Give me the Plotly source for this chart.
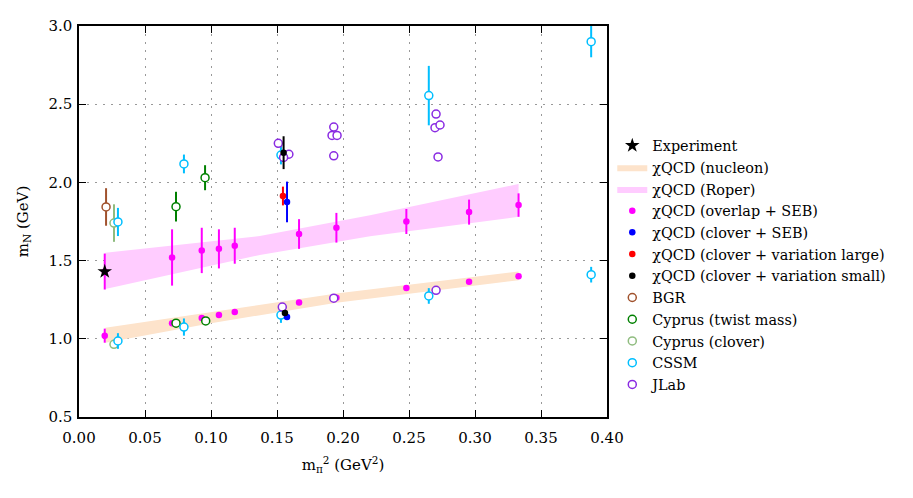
import plotly.graph_objects as go

# ---------------- data ----------------
exp_x = [0.0195]
exp_y = [1.43]

nuc_band_x = [0.02, 0.10, 0.195, 0.333]
nuc_band_lo = [0.975, 1.10, 1.23, 1.375]
nuc_band_hi = [1.07, 1.17, 1.29, 1.43]

rop_band_x = [0.02, 0.137, 0.2205, 0.333]
rop_band_lo = [1.318, 1.536, 1.655, 1.78]
rop_band_hi = [1.55, 1.657, 1.79, 1.99]

ov_x = [0.0195, 0.0705, 0.093, 0.106, 0.118, 0.1667, 0.195, 0.248, 0.2955, 0.333]
ov_nuc = [1.02, 1.10, 1.133, 1.152, 1.171, 1.232, 1.262, 1.325, 1.365, 1.40]
ov_nuc_err = [0.045, 0.01, 0.01, 0.01, 0.01, 0.01, 0.01, 0.01, 0.01, 0.01]
ov_rop = [1.43, 1.52, 1.565, 1.575, 1.595, 1.67, 1.71, 1.75, 1.81, 1.855]
ov_rop_err = [0.115, 0.18, 0.145, 0.125, 0.115, 0.095, 0.095, 0.08, 0.08, 0.075]

cs_x = [0.1576, 0.1576]
cs_y = [1.14, 1.875]
cs_err = [0.01, 0.13]

cl_x = [0.1545]
cl_y = [1.913]
cl_err = [0.06]

csm_x = [0.156, 0.155]
csm_y = [1.165, 2.19]
csm_err = [0.015, 0.105]

bgr_x = [0.0205]
bgr_y = [1.843]
bgr_err = [0.12]

cyt_x = [0.0735, 0.0955, 0.0735, 0.096]
cyt_y = [1.845, 2.03, 1.10, 1.114]
cyt_err = [0.095, 0.08, 0.01, 0.01]

cyc_x = [0.0265, 0.0265]
cyc_y = [1.74, 0.965]
cyc_err = [0.12, 0.01]

cssm_x = [0.0295, 0.0295, 0.0795, 0.0795, 0.153, 0.153, 0.265, 0.265, 0.388, 0.388]
cssm_y = [1.747, 0.986, 2.118, 1.075, 2.175, 1.152, 2.555, 1.274, 2.90, 1.41]
cssm_err = [0.09, 0.05, 0.06, 0.055, 0.06, 0.05, 0.19, 0.05, 0.10, 0.05]

jlab_x = [0.151, 0.159, 0.155, 0.1917, 0.193, 0.1955, 0.193, 0.2705, 0.2697, 0.2735, 0.272, 0.154, 0.193, 0.2705]
jlab_y = [2.25, 2.18, 2.16, 2.30, 2.354, 2.30, 2.17, 2.437, 2.35, 2.367, 2.163, 1.203, 1.26, 1.31]
jlab_err = [0.02] * len(jlab_x)

x_ticks = [0.0, 0.05, 0.10, 0.15, 0.20, 0.25, 0.30, 0.35, 0.40]
y_ticks = [0.5, 1.0, 1.5, 2.0, 2.5, 3.0]

FONT = "DejaVu Serif"
FS = 15

fig = go.Figure()

def band(xs, lo, hi, color, name, rank):
    fig.add_trace(go.Scatter(
        x=xs + xs[::-1], y=hi + lo[::-1], fill="toself", mode="lines",
        line=dict(width=0, color=color), fillcolor=color, name=name,
        legendrank=rank, hoverinfo="skip"))

band(nuc_band_x, nuc_band_lo, nuc_band_hi, "#fde3cb", "χQCD (nucleon)", 2)
band(rop_band_x, rop_band_lo, rop_band_hi, "#ffccff", "χQCD (Roper)", 3)

def series(xs, ys, errs, color, name, rank, filled=True, size=7):
    if filled:
        marker = dict(color=color, size=size, line=dict(width=0))
    else:
        marker = dict(color="white", size=size, line=dict(color=color, width=1.5))
    fig.add_trace(go.Scatter(
        x=xs, y=ys, mode="markers", name=name, legendrank=rank,
        marker=marker,
        error_y=dict(type="data", array=errs, visible=True, color=color,
                     thickness=2, width=0)))

series(ov_x + ov_x, ov_nuc + ov_rop, ov_nuc_err + ov_rop_err, "#ff00ff",
       "χQCD (overlap + SEB)", 4, size=6.5)
series(bgr_x, bgr_y, bgr_err, "#a0522d", "BGR", 8, filled=False, size=8)
series(cyt_x, cyt_y, cyt_err, "#008000", "Cyprus (twist mass)", 9, filled=False, size=8)
series(cyc_x, cyc_y, cyc_err, "#8fbc7f", "Cyprus (clover)", 10, filled=False, size=8)
series(cssm_x, cssm_y, cssm_err, "#00bfff", "CSSM", 11, filled=False, size=8)
series(jlab_x, jlab_y, jlab_err, "#8a2be2", "JLab", 12, filled=False, size=8)
series(cl_x, cl_y, cl_err, "#ff0000", "χQCD (clover + variation large)", 6, size=6.5)
series(cs_x, cs_y, cs_err, "#0000ff", "χQCD (clover + SEB)", 5, size=6.5)
series(csm_x, csm_y, csm_err, "#000000", "χQCD (clover + variation small)", 7, size=6.5)

fig.add_trace(go.Scatter(
    x=exp_x, y=exp_y, mode="markers", name="Experiment", legendrank=1,
    marker=dict(symbol="star", color="black", size=11, line=dict(width=0))))

axis_common = dict(
    showline=True, linecolor="black", linewidth=1.5, mirror="ticks",
    ticks="inside", ticklen=7, tickwidth=1, tickcolor="black",
    showgrid=True, gridcolor="#999999", gridwidth=1, griddash="2px,6px",
    zeroline=False, automargin=False,
    tickfont=dict(family=FONT, size=FS, color="black"),
)

# page body has an 8px margin: figure is 905x490 so it fits the 913x498 window
fig.update_layout(
    width=905, height=490,
    margin=dict(l=71, r=306, t=18, b=81),
    paper_bgcolor="white", plot_bgcolor="white",
    font=dict(family=FONT, size=FS, color="black"),
    showlegend=True,
    legend=dict(x=1.01, xanchor="left", y=0.735, yanchor="top",
                bgcolor="rgba(0,0,0,0)", borderwidth=0,
                font=dict(family=FONT, size=14.4, color="black"),
                tracegroupgap=0),
    xaxis=dict(range=[0, 0.40], tickvals=x_ticks, tickformat=".2f",
               ticklabelstandoff=6,
               title=dict(text="m<sub>π</sub><sup>2</sup> (GeV<sup>2</sup>)",
                          font=dict(family=FONT, size=FS), standoff=14),
               **axis_common),
    yaxis=dict(range=[0.5, 3.0], tickvals=y_ticks, tickformat=".1f",
               ticklabelstandoff=2,
               title=dict(text="m<sub>N</sub> (GeV)",
                          font=dict(family=FONT, size=FS), standoff=16),
               **axis_common),
)

fig.write_html("out.html")
